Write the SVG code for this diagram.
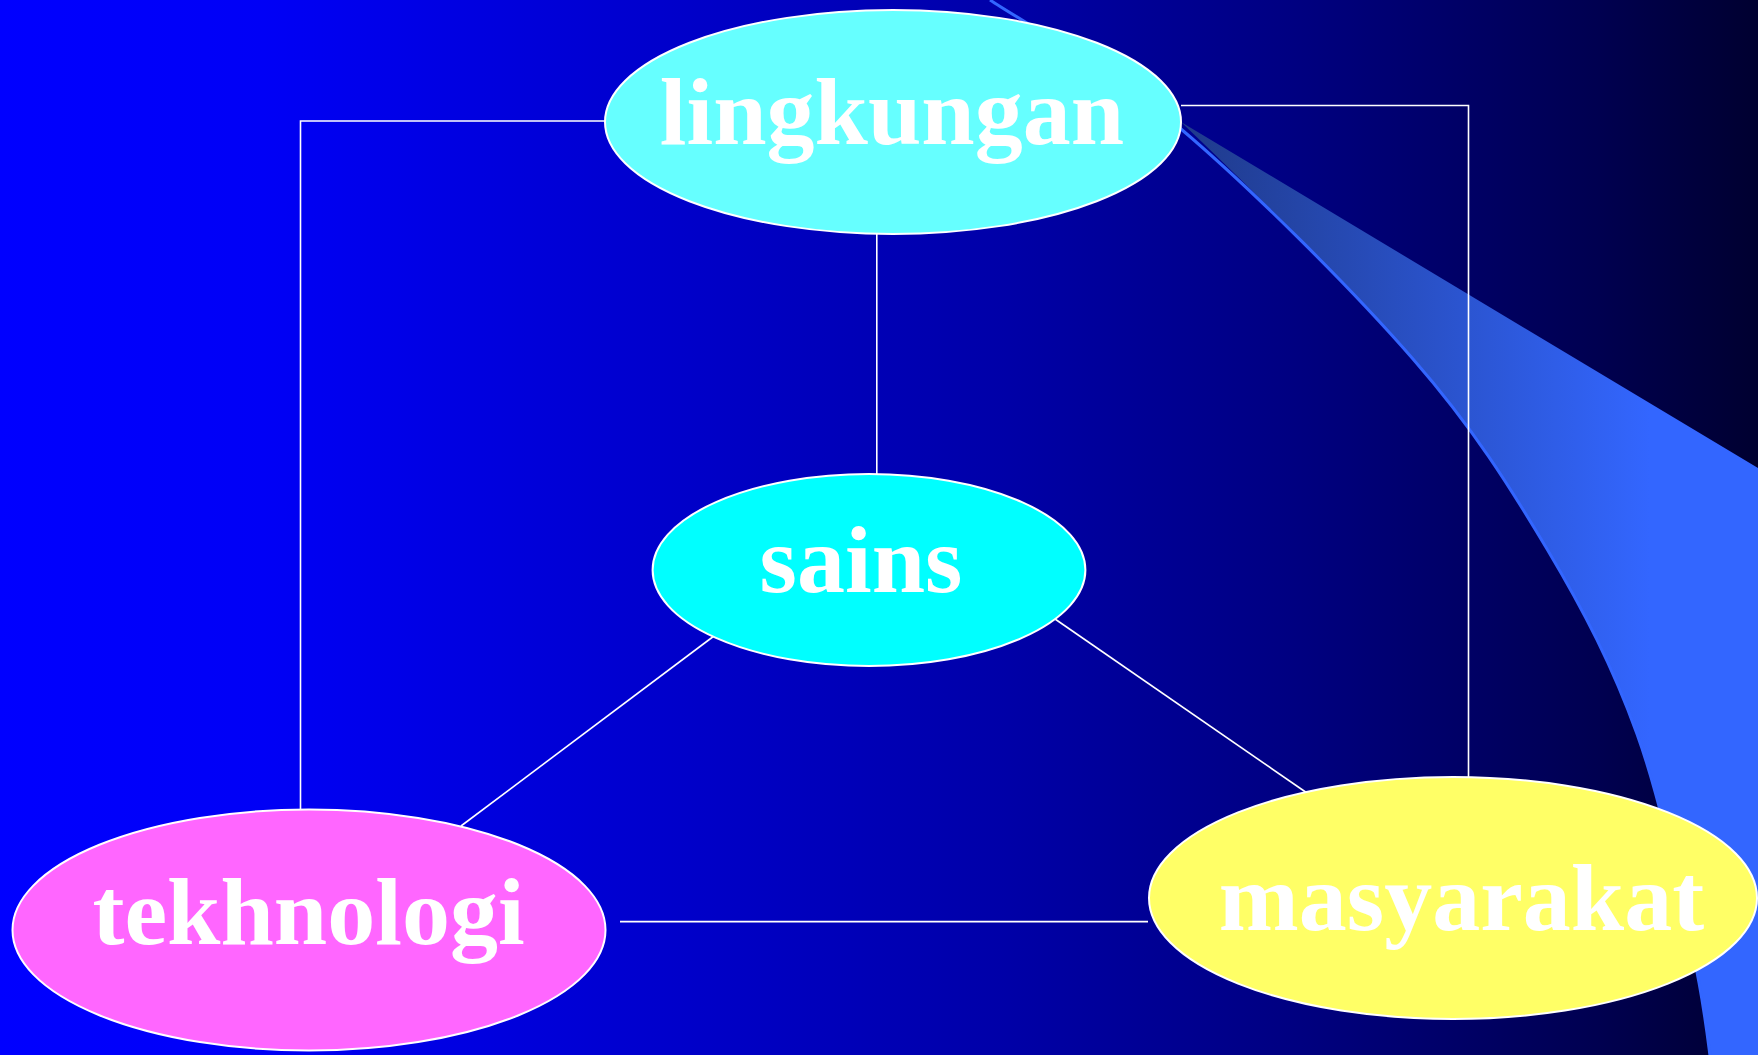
<svg xmlns="http://www.w3.org/2000/svg" width="1758" height="1055" viewBox="0 0 1758 1055">
<defs>
<linearGradient id="bg" x1="0" y1="0" x2="1758" y2="0" gradientUnits="userSpaceOnUse">
<stop offset="0" stop-color="#0000FF"/>
<stop offset="0.15" stop-color="#0000F6"/>
<stop offset="0.57" stop-color="#0000A8"/>
<stop offset="0.74" stop-color="#000080"/>
<stop offset="0.91" stop-color="#000050"/>
<stop offset="1" stop-color="#000030"/>
</linearGradient>
<linearGradient id="wedge" x1="1181" y1="0" x2="1650" y2="0" gradientUnits="userSpaceOnUse">
<stop offset="0" stop-color="#1F3A8A"/>
<stop offset="1" stop-color="#3366FF"/>
</linearGradient>
<style>
.node{stroke:#FFFFFF;stroke-width:2}
.lbl{font-family:"Liberation Serif","Times New Roman",serif;font-weight:bold;font-size:96px;fill:#FFFFFF;text-anchor:middle}
.conn{stroke:#FFFFFF;stroke-width:1.6;fill:none}
</style>
</defs>
<rect x="0" y="0" width="1758" height="1055" fill="url(#bg)"/>
<g id="decoration">
<path d="M1181,122 C1251.5,188.8 1352,289 1413,359 C1474,429 1509.7,486.5 1547,549 C1584.3,611.5 1612.7,666.7 1637,734 C1661.3,801.3 1680.5,897 1693,953 C1705.5,1009 1708.8,1050.5 1712,1070 L1758,1070 L1758,468 Z" fill="url(#wedge)"/>
<path d="M990,0 C1021.8,21.5 1110.5,69.2 1181,129 C1251.5,188.8 1352,289 1413,359 C1474,429 1509.7,486.5 1547,549 C1584.3,611.5 1612.7,666.7 1637,734 C1661.3,801.3 1680.5,897 1693,953 C1705.5,1009 1708.8,1050.5 1712,1070" fill="none" stroke="#3366FF" stroke-width="3"/>
</g>
<g id="connectors">
<polyline class="conn" points="605,121 300.5,121 300.5,810"/>
<polyline class="conn" points="1181,105.5 1468.5,105.5 1468.5,777"/>
<line class="conn" x1="876.8" y1="234" x2="876.8" y2="474"/>
<line class="conn" x1="714" y1="636" x2="461" y2="826"/>
<line class="conn" x1="1055" y1="619" x2="1307" y2="793"/>
<line class="conn" x1="620" y1="921.6" x2="1148" y2="921.6"/>
</g>
<g id="node-lingkungan">
<ellipse class="node" cx="893" cy="122" rx="288" ry="112" fill="#66FFFF"/>
<text class="lbl" x="892" y="143.5">lingkungan</text>
</g>
<g id="node-sains">
<ellipse class="node" cx="869" cy="570" rx="216.4" ry="96" fill="#00FFFF"/>
<text class="lbl" x="861" y="592">sains</text>
</g>
<g id="node-tekhnologi">
<ellipse class="node" cx="309" cy="930" rx="296.5" ry="120.5" fill="#FF66FF"/>
<text class="lbl" x="308.5" y="944">tekhnologi</text>
</g>
<g id="node-masyarakat">
<ellipse class="node" cx="1453" cy="898" rx="304" ry="121" fill="#FFFF66"/>
<text class="lbl" x="1461.5" y="929.5">masyarakat</text>
</g>
</svg>
